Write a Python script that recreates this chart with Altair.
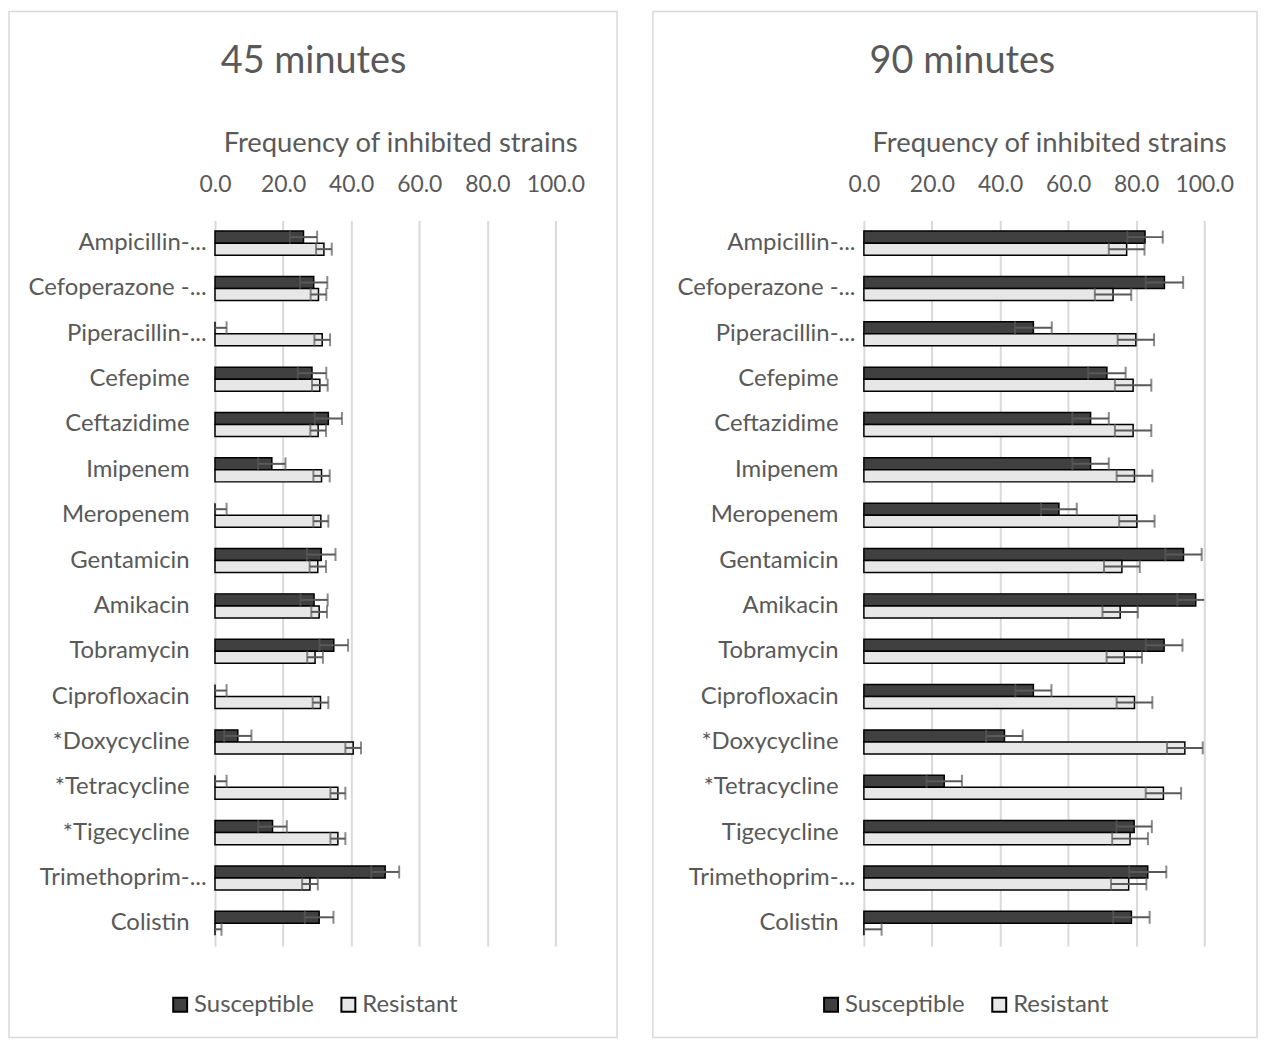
import altair as alt
import pandas as pd

# ---------------- data ----------------
series = ["Susceptible", "Resistant"]

categories_45 = ["Ampicillin-...", "Cefoperazone -...", "Piperacillin-...", "Cefepime",
                 "Ceftazidime", "Imipenem", "Meropenem", "Gentamicin", "Amikacin",
                 "Tobramycin", "Ciprofloxacin", "*Doxycycline", "*Tetracycline",
                 "*Tigecycline", "Trimethoprim-...", "Colistin"]
categories_90 = ["Ampicillin-...", "Cefoperazone -...", "Piperacillin-...", "Cefepime",
                 "Ceftazidime", "Imipenem", "Meropenem", "Gentamicin", "Amikacin",
                 "Tobramycin", "Ciprofloxacin", "*Doxycycline", "*Tetracycline",
                 "Tigecycline", "Trimethoprim-...", "Colistin"]

s45 = [26.0, 29.0, 0.0, 28.5, 33.3, 16.7, 0.0, 31.2, 29.1, 34.9, 0.0, 6.7, 0.0, 16.9, 50.0, 30.6]
s45_err = [4.0, 4.0, 3.4, 4.2, 4.0, 4.0, 3.4, 4.2, 4.0, 4.2, 3.4, 4.0, 3.4, 4.2, 4.1, 4.2]
r45 = [32.0, 30.4, 31.5, 30.8, 30.3, 31.3, 31.1, 30.2, 30.6, 29.4, 31.0, 40.6, 36.1, 36.1, 27.9, 0.0]
r45_err = [2.3, 2.3, 2.3, 2.3, 2.3, 2.4, 2.2, 2.4, 2.3, 2.3, 2.3, 2.3, 2.2, 2.2, 2.3, 1.9]

s90 = [82.6, 88.3, 49.8, 71.4, 66.6, 66.6, 57.3, 93.9, 97.5, 88.2, 49.8, 41.3, 23.6, 79.4, 83.4, 78.6]
s90_err = [5.2, 5.5, 5.4, 5.5, 5.35, 5.35, 5.25, 5.35, 5.4, 5.4, 5.3, 5.35, 5.2, 5.2, 5.45, 5.35]
r90 = [77.2, 73.2, 79.9, 79.1, 79.1, 79.5, 80.2, 75.8, 75.3, 76.5, 79.5, 94.3, 88.0, 78.2, 77.8, 0.0]
r90_err = [5.25, 5.35, 5.35, 5.35, 5.35, 5.25, 5.2, 5.25, 5.2, 5.2, 5.25, 5.25, 5.2, 5.25, 5.2, 5.2]

x_ticks = [0, 20, 40, 60, 80, 100]

# ---------------- style ----------------
FONT = "Lato"
TXT = "#595959"
GRID = "#d9d9d9"
FILLS = ["#404040", "#e7e7e7"]


def build_df(cats, sv, se, rv, re):
    rows = []
    for c, v, e in zip(cats, sv, se):
        rows.append(dict(cat=c, series="Susceptible", value=v, err=e))
    for c, v, e in zip(cats, rv, re):
        rows.append(dict(cat=c, series="Resistant", value=v, err=e))
    df = pd.DataFrame(rows)
    df["lo"] = (df["value"] - df["err"]).clip(lower=0)
    df["hi"] = (df["value"] + df["err"]).clip(upper=100)
    df["lo_cap"] = (df["value"] - df["err"]) >= 0
    df["hi_cap"] = (df["value"] + df["err"]) <= 100
    return df


def panel(title, cats, df, frame_box, legend_x):
    yenc = alt.Y("cat:N", sort=cats,
                 scale=alt.Scale(paddingInner=0.47, paddingOuter=0.235),
                 axis=alt.Axis(title=None, domain=False, ticks=False, grid=False,
                               labelFont=FONT, labelFontSize=24, labelColor=TXT,
                               labelPadding={"condition": {"test": "indexof(datum.value, '...') >= 0",
                                                           "value": 9},
                                             "value": 26},
                               labelLimit=400))
    yoff = alt.YOffset("series:N", sort=series,
                       scale=alt.Scale(paddingInner=0, paddingOuter=0))
    xaxis = alt.Axis(orient="top", title="Frequency of inhibited strains",
                     values=x_ticks, format=".1f", grid=True, gridColor=GRID,
                     gridWidth=2, domain=False, ticks=False, labelOverlap=False,
                     labelFlush=False,
                     labelFont=FONT, labelFontSize=23, labelColor=TXT, labelPadding=24,
                     titleFont=FONT, titleFontSize=27.5, titleColor=TXT,
                     titleFontWeight="normal", titlePadding=16,
                     titleX=186, titleAlign="center")
    xscale = alt.Scale(domain=[0, 100], nice=False)

    fx0, fx1, fy0, fy1 = frame_box
    frame = alt.Chart(pd.DataFrame({"k": [0]})).mark_rect(
        fill="white", fillOpacity=0, stroke=GRID, strokeWidth=1.5
    ).encode(x=alt.value(fx0), x2=alt.value(fx1), y=alt.value(fy0), y2=alt.value(fy1))

    bars = alt.Chart(df).mark_bar(stroke="black", strokeWidth=1.5).encode(
        y=yenc,
        x=alt.X("value:Q", scale=xscale, axis=xaxis),
        yOffset=yoff,
        color=alt.Color("series:N", sort=series,
                        scale=alt.Scale(domain=series, range=FILLS),
                        legend=alt.Legend(title=None, orient="none", direction="horizontal",
                                          legendX=legend_x, legendY=776,
                                          symbolType="square", symbolSize=196,
                                          symbolStrokeColor="black", symbolStrokeWidth=2,
                                          labelFont=FONT, labelFontSize=24, labelColor=TXT,
                                          labelOffset=2, columnPadding=22)),
    )
    rules = alt.Chart(df).mark_rule(color=TXT, strokeWidth=2).encode(
        y=yenc, yOffset=yoff,
        x=alt.X("lo:Q", scale=xscale, axis=xaxis), x2="hi:Q")
    caps_lo = alt.Chart(df[df["lo_cap"]]).mark_tick(color=TXT, thickness=2, size=13).encode(
        y=yenc, yOffset=yoff, x=alt.X("lo:Q", scale=xscale, axis=xaxis))
    caps_hi = alt.Chart(df[df["hi_cap"]]).mark_tick(color=TXT, thickness=2, size=13).encode(
        y=yenc, yOffset=yoff, x=alt.X("hi:Q", scale=xscale, axis=xaxis))

    return alt.layer(frame, bars, rules, caps_lo, caps_hi).properties(
        width=342, height=729,
        title=alt.TitleParams(text=title, font=FONT, fontSize=38, color=TXT,
                              fontWeight="normal", anchor="middle", dx=-72, offset=-71),
    )


df45 = build_df(categories_45, s45, s45_err, r45, r45_err)
df90 = build_df(categories_90, s90, s90_err, r90, r90_err)

left = panel("45 minutes", categories_45, df45, (-207, 404, -210, 821), -47)
right = panel("90 minutes", categories_90, df90, (-212, 395, -210, 821), -45)

chart = alt.hconcat(left, right, spacing=310, bounds="flush").resolve_scale(
    color="independent", y="independent"
).resolve_legend(color="independent").configure_view(stroke=None).properties(
    padding={"left": 0, "top": 0, "right": 0, "bottom": 0}
)

chart.save("out.html", embed_options={"renderer": "svg", "actions": False})
